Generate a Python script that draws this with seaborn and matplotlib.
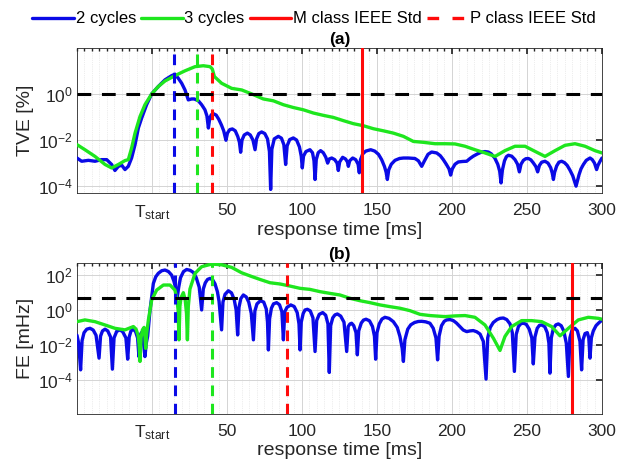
import numpy as np
import pandas as pd
import matplotlib
matplotlib.use("Agg")
import matplotlib.pyplot as plt
from matplotlib.lines import Line2D
from matplotlib.ticker import MultipleLocator, LogLocator, NullFormatter, FixedLocator
import seaborn as sns

# ---------------- data (time in ms, values as log10 exponents) ----------------
blue_a_t = [-50, -46.9, -42.4, -38, -33.6, -30.2, -26.9, -24.7, -22.4, -20.2, -18, -15.8, -13.6, -11.3, -9.1, -6.9,
            -3.6, -0.2, 4.2, 8.7, 13.1, 15.3, 17.6, 19.8, 22, 24.2, 26.4, 28.2, 30.9, 33.1, 35.3, 36.6, 37.6, 38.5, 39.6,
            41, 42.8, 44.5, 46.3, 47.8, 49.3, 50.3, 51.8, 53.6, 55.5, 57.2, 58.3, 59.1, 60, 61.5, 63.6, 65.5, 67.3, 68.7,
            69.7, 71.2, 73.1, 75.2, 77, 78.3, 79.1, 79.9, 81.5, 84.2, 86.3, 87.9, 89.1, 90.1, 91.8, 94.2, 96.4, 98.3,
            99.5, 100.2, 101, 102.6, 105.3, 107, 108, 108.7, 109.5, 110.8, 112.4, 114.2, 115.9, 117.1, 118.2, 119.8,
            121.8, 123.4, 124.2, 125.1, 127.1, 129, 130.3, 130.9, 131.8, 133.8, 135.8, 137.4, 138.2, 139, 140.5, 142.5,
            145.8, 148.5, 151, 153.1, 155, 156.1, 156.9, 157.8, 159.5, 162, 165, 167.6, 171, 175.3, 177.6, 179.8,
            181.5, 184, 186.4, 189.8, 192.2, 194.2, 196.2, 198, 199.1, 200.2, 202, 204.2, 207, 209.8, 212, 214.2, 217,
            219.8, 222, 224.2, 226.2, 228.5, 230.5, 231.8, 232.7, 233.6, 235, 236.3, 237.6, 239.8, 242, 243.7, 244.9,
            246, 247.6, 249.2, 250.9, 252.6, 254.2, 255.9, 257.1, 258.3, 259.8, 262, 264, 265.8, 266.9, 267.6, 268.4,
            269.8, 271.3, 273.1, 275, 276.8, 278.6, 280.5, 282, 282.7, 283.5, 284.7, 286, 287.6, 289.5, 292, 293.5,
            295, 296.4, 297.3, 298.7, 300]
blue_a_e = [-2.78, -2.92, -2.88, -2.92, -2.85, -2.85, -3.06, -3.32, -3.14, -3.09, -3.28, -3.14, -2.78, -2.2, -1.48, -1.05,
            -0.47, 0, 0.32, 0.61, 0.79, 0.85, 0.67, 0.46, 0.17, -0.26, -0.22, -0.22, -0.30, -0.47, -0.69, -0.95, -1.48, -1.05,
            -0.9, -0.86, -0.92, -1.1, -1.35, -1.6, -2.01, -1.7, -1.55, -1.52, -1.6, -1.85, -2.1, -2.53, -2.0, -1.78, -1.7,
            -1.78, -2.0, -2.42, -1.95, -1.72, -1.65, -1.72, -1.95, -2.5, -4.14, -2.4, -1.95, -1.84, -1.92, -2.2, -3.06,
            -2.25, -1.98, -1.91, -2.0, -2.3, -2.7, -3.21, -2.7, -2.5, -2.42, -2.55, -2.9, -3.71, -2.85, -2.55, -2.46,
            -2.55, -2.75, -3.0, -2.82, -2.78, -2.85, -3.0, -3.32, -2.95, -2.75, -2.82, -2.95, -3.14, -2.9, -2.78, -2.85,
            -3.05, -3.42, -2.85, -2.6, -2.48, -2.42, -2.48, -2.62, -2.85, -3.15, -3.4, -3.71, -3.3, -3.05, -2.88, -2.8,
            -2.78, -2.78, -2.8, -2.9, -3.14, -2.92, -2.62, -2.52, -2.56, -2.68, -2.85, -3.05, -3.25, -3.52, -3.25, -3.05,
            -2.95, -2.93, -2.92, -2.8, -2.7, -2.6, -2.52, -2.5, -2.52, -2.6, -2.78, -3.05, -3.35, -3.86, -3.3, -2.9,
            -2.72, -2.66, -2.7, -2.85, -3.05, -3.38, -3.05, -2.88, -2.81, -2.8, -2.86, -2.99, -3.15, -3.38, -3.1, -2.96,
            -2.92, -3.0, -3.2, -3.45, -3.71, -3.4, -3.12, -2.96, -2.92, -2.98, -3.1, -3.3, -3.55, -3.85, -4.0, -3.8,
            -3.5, -3.25, -3.06, -2.88, -2.78, -2.85, -3.0, -3.28, -3.1, -2.92, -2.78]

green_a_t = [-50, -44.7, -38, -31.3, -26.9, -22.4, -18, -15.8, -13.6, -11.3, -8, -4.7, -0.2, 4.2, 8.7, 15.3, 22, 28.7,
             34.2, 38.7, 40.2, 41.6, 46.4, 53.1, 59.8, 66.4, 74.2, 80.9, 87.6, 94.2, 100.9, 107.6, 114.2, 120.9, 127.6,
             134.2, 140.9, 147.6, 154.2, 160.9, 167.6, 174.2, 181, 188.7, 195.3, 202, 208.7, 215.3, 222, 228.7, 235.3,
             242, 248.7, 255.3, 262, 268.7, 275.3, 282, 288.7, 295.3, 300]
green_a_e = [-2.2, -2.42, -2.71, -3.06, -3.21, -3.06, -2.89, -2.85, -2.35, -1.7, -0.98, -0.47, 0, 0.32, 0.56, 0.79, 1.0, 1.18,
             1.22, 1.18, 1.08, 0.75, 0.46, 0.24, 0.17, 0.0, -0.22, -0.30, -0.47, -0.59, -0.69, -0.83, -0.93, -1.02, -1.16,
             -1.29, -1.38, -1.51, -1.60, -1.70, -1.84, -2.06, -2.10, -2.16, -2.16, -2.17, -2.27, -2.42, -2.56, -2.71, -2.46,
             -2.27, -2.27, -2.49, -2.71, -2.46, -2.23, -2.16, -2.27, -2.46, -2.56]

blue_b_t = [-50, -48.9, -47.6, -46.6, -45.3, -43.5, -41.3, -39.2, -37.3, -35.3, -34.3, -33, -31.3, -29.5, -27.6, -26.4,
            -25.3, -23.5, -21.3, -19.5, -17.4, -16.2, -15.2, -14, -12.4, -10.9, -9.6, -8.7, -7.9, -7.1, -6, -4.7, -3.8,
            -2.9, -1.3, 0.9, 2.5, 4.2, 6.5, 8.7, 11, 13.1, 14.6, 15.8, 16.9, 17.8, 19, 21, 23.1, 25.5, 27.6, 29.5, 31.5,
            33.1, 34.2, 35.5, 37, 38.7, 40.5, 42, 43.6, 44.7, 46.4, 47.3, 48.7, 50.9, 53, 54.8, 56.1, 57.1, 58, 59.2,
            60.9, 62.8, 64.5, 66.2, 67.6, 68.6, 70, 72.3, 74.5, 76.2, 77, 77.6, 78.4, 79.6, 81, 83.1, 85, 86.6, 87.6,
            88.5, 90, 92.5, 94.8, 96.8, 98, 98.7, 99.5, 100.8, 102, 103.6, 105.5, 107.3, 108.7, 109.8, 111.5, 113.8,
            115.8, 117.3, 118.2, 119.1, 120.5, 122, 123.6, 125.8, 128, 129.8, 130.8, 132, 133.1, 134.5, 136, 136.9,
            137.8, 139.5, 141, 142.7, 145, 147, 148.3, 149.1, 150, 151.5, 153.3, 155.3, 158, 160.9, 163.5, 165.3,
            166.8, 167.6, 168.6, 170.5, 172.5, 175, 177.5, 179.8, 182.5, 185.3, 187.5, 189.3, 190.4, 191.4, 193,
            194.8, 196.4, 198.7, 200.9, 203, 205.3, 207.5, 209.8, 212, 214.2, 216.5, 218.7, 220.9, 222.7, 223.8,
            225.5, 227.5, 230, 232, 234.2, 236.5, 238.7, 240.2, 241.6, 242.8, 244.3, 246, 247.6, 249.5, 251.5, 253.2,
            254.2, 255.3, 256.8, 258.3, 259.8, 261.8, 263.5, 264.6, 265.3, 266.2, 267.6, 269.3, 270.9, 272.8, 274.5,
            276.2, 277.6, 278.6, 280, 282, 283.6, 285.3, 286.4, 287.4, 288.7, 290.2, 291.2, 292, 292.9, 294.2, 296,
            297.6, 300]
blue_b_e = [-1.45, -1.9, -3.43, -1.75, -1.3, -1.1, -1.05, -1.15, -1.45, -2.76, -1.5, -1.2, -1.1, -1.2, -1.55, -3.39,
            -1.6, -1.22, -1.14, -1.25, -1.6, -2.82, -1.55, -1.2, -1.1, -1.25, -1.6, -2.67, -1.5, -1.3, -1.6, -2.67, -1.9,
            -1.5, 0.0, 1.52, 1.9, 2.1, 2.25, 2.29, 2.2, 2.0, 1.65, 1.25, 0.76, 1.3, 1.85, 2.2, 2.32, 2.27, 2.15, 1.85, 1.3,
            0.0, 1.2, 1.55, 1.75, 1.81, 1.72, 1.5, 1.05, 0.5, -1.14, 0.45, 0.9, 1.1, 0.98, 0.6, 0.0, -1.43, 0.15, 0.65,
            0.86, 0.75, 0.45, -0.2, -1.71, -0.05, 0.35, 0.53, 0.45, 0.05, -0.7, -2.29, -0.5, 0.1, 0.35, 0.42, 0.3, -0.1,
            -1.71, -0.1, 0.15, 0.29, 0.2, -0.15, -0.8, -2.29, -0.7, -0.2, 0.0, 0.04, -0.05, -0.45, -2.38, -0.6, -0.25,
            -0.15, -0.3, -0.8, -3.58, -0.9, -0.45, -0.28, -0.23, -0.35, -0.7, -2.38, -0.95, -0.8, -0.76, -0.9, -1.3,
            -2.57, -1.2, -0.75, -0.58, -0.53, -0.62, -0.95, -1.5, -2.82, -1.3, -0.8, -0.52, -0.42, -0.48, -0.67, -1.0,
            -1.52, -2.2, -2.95, -1.7, -1.1, -0.85, -0.72, -0.66, -0.65, -0.68, -0.76, -1.05, -1.6, -2.86, -1.5, -0.9,
            -0.65, -0.57, -0.55, -0.61, -0.75, -0.95, -1.15, -1.24, -1.2, -1.18, -1.25, -1.38, -1.8, -3.96, -1.6,
            -1.0, -0.72, -0.55, -0.48, -0.46, -0.55, -0.8, -1.3, -3.52, -1.4, -0.95, -0.78, -0.76, -0.82, -1.1, -1.6,
            -3.09, -1.55, -1.05, -0.88, -0.86, -0.95, -1.3, -1.9, -3.62, -1.6, -1.05, -0.85, -0.8, -0.9, -1.2,
            -1.9, -3.81, -1.6, -1.15, -1.05, -1.2, -1.8, -3.43, -1.7, -1.35, -1.3, -1.6, -2.76, -1.6, -1.2, -0.9,
            -0.76, -0.58]

green_b_t = [-50, -44.7, -38, -31.3, -24.7, -18, -12.4, -10.6, -9.3, -8.6, -8, -7.3, -6.4, -5.3, -4.7, -4.2, -3.5, -2.4,
             -0.2, 3.1, 7.6, 12, 15.3, 16.6, 17.4, 18, 18.6, 19.3, 20.9, 22.1, 23, 23.6, 24.2, 25.3, 28.7, 33.1, 39.8,
             46.4, 53.1, 59.8, 66.4, 72, 78.7, 85.3, 92, 98.7, 105.3, 112, 118.7, 125.3, 132, 138.7, 145.3, 152, 158.7,
             165.3, 172, 178.7, 185.3, 195.3, 202, 208.7, 215.3, 222, 227.6, 232, 235.3, 239.8, 246.4, 253.1, 259.8,
             266.4, 272, 277.6, 284.2, 290.9, 297.6, 300]
green_b_e = [-0.67, -0.57, -0.67, -0.86, -1.05, -1.14, -0.95, -1.1, -1.45, -1.95, -2.95, -1.6, -1.14, -1.0, -1.5, -2.2,
             -1.3, -0.57, 0.57, 1.14, 1.43, 1.43, 1.14, 0.6, 0.0, -1.71, 0.2, 0.7, 0.99, 0.6, -0.2, -1.71, 0.2, 1.2, 2.1,
             2.48, 2.63, 2.59, 2.44, 2.13, 1.92, 1.75, 1.56, 1.49, 1.37, 1.24, 1.18, 1.05, 0.95, 0.86, 0.67, 0.53, 0.42,
             0.29, 0.19, 0.10, -0.04, -0.25, -0.32, -0.38, -0.34, -0.32, -0.42, -0.86, -1.62, -2.32, -1.52, -0.95, -0.61,
             -0.61, -0.67, -0.95, -1.48, -1.05, -0.57, -0.42, -0.48, -0.53]

# reference lines
vlines_a = {"blue": 14.5, "green": 30, "red_dash": 40, "red_solid": 140}
vlines_b = {"blue": 15.5, "green": 40, "red_dash": 90, "red_solid": 280}
limit_a = 1.0     # TVE limit [%]
limit_b = 5.0     # FE limit [mHz]

xticks = [0, 50, 100, 150, 200, 250, 300]
xticklabels = [r"T$_{\mathregular{start}}$", "50", "100", "150", "200", "250", "300"]
legend_labels = ["2 cycles", "3 cycles", "M class IEEE Std", "P class IEEE Std"]

# ---------------- style ----------------
sns.set_theme(style="white")
plt.rcParams["font.family"] = ["Liberation Sans", "DejaVu Sans"]
plt.rcParams["mathtext.fontset"] = "custom"
plt.rcParams["mathtext.rm"] = "Liberation Sans"
plt.rcParams["mathtext.it"] = "Liberation Sans:italic"
plt.rcParams["mathtext.bf"] = "Liberation Sans:bold"

BLUE = "#0a0ae6"
GREEN = "#1ee61e"
RED = "#ff0a0a"
TXT = "#262626"

fig = plt.figure(figsize=(6.28, 4.62), dpi=100)
ax_a = fig.add_axes([0.1226, 0.582, 0.836, 0.314])
ax_b = fig.add_axes([0.1226, 0.104, 0.836, 0.327])


def draw(ax, bt, be, gt, ge, vl, lim, ylim, yticks, ylabel, title):
    dfb = pd.DataFrame({"t": bt, "v": np.power(10.0, be)})
    dfg = pd.DataFrame({"t": gt, "v": np.power(10.0, ge)})
    sns.lineplot(data=dfb, x="t", y="v", ax=ax, color=BLUE, lw=2.4, estimator=None, sort=False, zorder=3)
    sns.lineplot(data=dfg, x="t", y="v", ax=ax, color=GREEN, lw=2.4, estimator=None, sort=False, zorder=3)
    ax.set_yscale("log")
    ax.axvline(vl["blue"], color=BLUE, lw=2.2, ls=(0, (3.5, 2.5)), zorder=4)
    ax.axvline(vl["green"], color=GREEN, lw=2.2, ls=(0, (3.5, 2.5)), zorder=4)
    ax.axvline(vl["red_dash"], color=RED, lw=2.2, ls=(0, (3.5, 2.5)), zorder=4)
    ax.axvline(vl["red_solid"], color=RED, lw=2.2, zorder=4)
    ax.axhline(lim, color="black", lw=2.2, ls=(0, (4.5, 3.5)), zorder=5)
    ax.set_xlim(-50, 300)
    ax.set_ylim(*ylim)
    ax.set_xticks(xticks)
    ax.set_xticklabels(xticklabels)
    ax.xaxis.set_minor_locator(MultipleLocator(5))
    ax.yaxis.set_major_locator(FixedLocator(yticks))
    ax.yaxis.set_minor_locator(LogLocator(base=10, subs=np.arange(2, 10)))
    ax.yaxis.set_minor_formatter(NullFormatter())
    ax.grid(True, which="major", color="#d4d4d4", lw=0.7)
    ax.grid(True, which="minor", color="#dcdcdc", lw=0.5, ls=":")
    ax.set_axisbelow(True)
    ax.tick_params(which="both", direction="in", top=True, right=True, colors=TXT, labelsize=12.5)
    ax.tick_params(which="major", length=4)
    ax.tick_params(which="minor", length=2)
    ax.tick_params(axis="x", which="major", pad=7)
    ax.tick_params(axis="y", which="major", pad=3)
    for s in ax.spines.values():
        s.set_color("#262626")
        s.set_linewidth(0.6)
    ax.set_xlabel("response time [ms]", fontsize=14, color=TXT, labelpad=0)
    ax.set_ylabel(ylabel, fontsize=14, color=TXT, labelpad=3)
    ax.set_title(title, fontsize=12.5, fontweight="bold", color="black", pad=3)


draw(ax_a, blue_a_t, blue_a_e, green_a_t, green_a_e, vlines_a, limit_a, (5e-5, 97), [1e-4, 1e-2, 1e0],
     "TVE [%]", "(a)")
draw(ax_b, blue_b_t, blue_b_e, green_b_t, green_b_e, vlines_b, limit_b, (1.1e-6, 500), [1e-4, 1e-2, 1e0, 1e2],
     "FE [mHz]", "(b)")

handles = [Line2D([], [], color=BLUE, lw=2.4),
           Line2D([], [], color=GREEN, lw=2.4),
           Line2D([], [], color=RED, lw=2.4),
           Line2D([], [], color=RED, lw=2.4, ls=(0, (3.5, 4.0)))]
fig.legend(handles, legend_labels, loc="center", bbox_to_anchor=(0.5, 0.959), ncol=4, frameon=False,
           fontsize=12, handlelength=2.5, handletextpad=0.1, columnspacing=0.3, labelcolor="black")

fig.savefig("out.png", dpi=100, facecolor="white")
